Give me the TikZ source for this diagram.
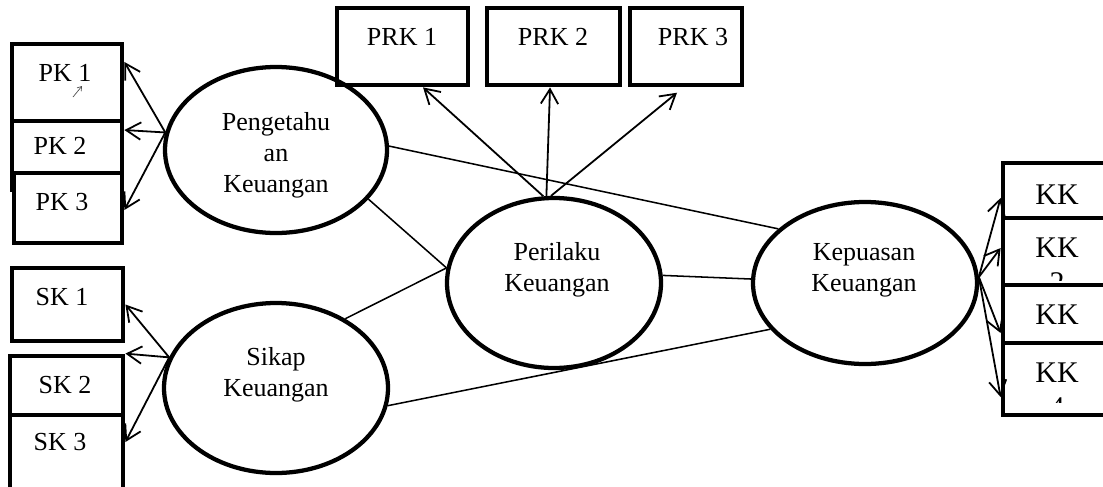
\documentclass[tikz,border=0pt]{standalone}
\usepackage{fontspec}
\setmainfont{Liberation Serif}
\usetikzlibrary{shapes.geometric,arrows.meta}
\begin{document}
\begin{tikzpicture}[x=0.75pt,y=-0.75pt,
  box/.style={draw, line width=3.6pt, fill=white, inner sep=0pt},
  lat/.style={draw, ellipse, line width=3.2pt, inner sep=0pt},
  lbl/.style={font=\fontsize{19.5}{23.25}\selectfont, align=center, inner sep=0pt},
  kklbl/.style={font=\fontsize{22.5}{26}\selectfont, align=center, inner sep=0pt},
  arr/.style={line width=1.35pt, -{Straight Barb[length=11pt,width=13pt]}},
  link/.style={line width=1.15pt},
  stray/.style={line width=0.5pt, black!70, -{Straight Barb[length=3pt,width=4pt]}}]
\useasboundingbox (0,0) rectangle (1103,486);
\clip (0,0) rectangle (1103,486);

% ---- PK boxes
\node[box, minimum width=82.5pt, minimum height=57.75pt] (pk1) at (67,82.5) {};
\node[box, minimum width=82.5pt, minimum height=51.75pt] (pk2) at (67,155.5) {};
\node[box, minimum width=81pt, minimum height=52.5pt] (pk3) at (68,208) {};
\node[lbl] (pk1t) at (65,73) {PK 1};
\node[lbl] (pk2t) at (60,146) {PK 2};
\node[lbl] (pk3t) at (62,202) {PK 3};
\coordinate (s1) at (73,97);
\coordinate (s2) at (82,86);
\draw[stray] (s1) -- (s2);

% ---- SK boxes
\node[box, minimum width=83.25pt, minimum height=54.75pt] (sk1) at (67.5,304.5) {};
\node[box, minimum width=84.75pt, minimum height=55.5pt] (sk2) at (66.5,393) {};
\node[box, minimum width=84.75pt, minimum height=57.75pt] (sk3) at (66.5,453.5) {};
\node[lbl] (sk1t) at (62,297) {SK 1};
\node[lbl] (sk2t) at (65,385) {SK 2};
\node[lbl] (sk3t) at (60,442) {SK 3};

% ---- PRK boxes
\node[box, minimum width=98.25pt, minimum height=57.75pt] (prk1) at (402.5,46.5) {};
\node[box, minimum width=99.75pt, minimum height=57.75pt] (prk2) at (553.5,46.5) {};
\node[box, minimum width=84pt, minimum height=57.75pt] (prk3) at (686,46.5) {};
\node[lbl] (prk1t) at (402,37) {PRK 1};
\node[lbl] (prk2t) at (553,37) {PRK 2};
\node[lbl] (prk3t) at (693,37) {PRK 3};

% ---- KK boxes
\node[box, minimum width=84pt, minimum height=41.25pt] (kk1) at (1059,190.5) {};
\node[kklbl] (kk1t) at (1057,195) {KK};
\node[box, minimum width=84pt, minimum height=50.25pt] (kk2) at (1059,251.5) {};
\begin{scope}
  \clip (1003,218) rectangle (1103,280);
  \node[kklbl] (kk2t) at (1057,265) {KK\\2};
\end{scope}
\node[box, minimum width=84pt, minimum height=43.5pt] (kk3) at (1059,314) {};
\node[kklbl] (kk3t) at (1057,315) {KK};
\node[box, minimum width=84pt, minimum height=54pt] (kk4) at (1059,379) {};
\begin{scope}
  \clip (1003,343) rectangle (1103,402);
  \node[kklbl] (kk4t) at (1057,390) {KK\\4};
\end{scope}

% ---- latent variables
\node[lat, minimum width=166.5pt, minimum height=124.5pt] (pk) at (276,150) {};
\node[lat, minimum width=168pt, minimum height=127.5pt] (sk) at (276,388) {};
\node[lat, minimum width=160.5pt, minimum height=127.5pt] (pr) at (554,283) {};
\node[lat, minimum width=168pt, minimum height=121.5pt] (kp) at (865,283) {};
\node[lbl] (pkt) at (276,155) {Pengetahu\\an\\Keuangan};
\node[lbl] (skt) at (276,375) {Sikap\\Keuangan};
\node[lbl] (prt) at (557,270) {Perilaku\\Keuangan};
\node[lbl] (kpt) at (864,270) {Kepuasan\\Keuangan};

% ---- arrows to indicators
\draw[arr] (pk.171) -- ([yshift=15.4pt]pk1.east);
\draw[arr] (pk.171) -- ([yshift=19.1pt]pk2.east);
\draw[arr] (pk.171) -- ([yshift=-1.5pt]pk3.east);

\draw[arr] (sk.164) -- (sk1.east);
\draw[arr] (sk.164) -- (sk2.north east);
\draw[arr] (sk.164) -- ([yshift=8.6pt]sk3.east);

\draw[arr] (pr.97) -- ([xshift=15.4pt]prk1.south);
\draw[arr] (pr.95) -- ([xshift=-2.6pt]prk2.south);
\draw[arr] (pr.92) -- ([xshift=-6.75pt,yshift=-4pt]prk3.south);

\draw[arr] (kp.3) -- ([yshift=-5.6pt]kk1.west);
\draw[arr] (kp.3) -- ([yshift=2.6pt]kk2.west);
\draw[arr] (kp.3) -- ([yshift=-14.25pt]kk3.west);
\draw[arr] (kp.3) -- ([yshift=-13.5pt]kk4.west);

% ---- structural paths
\draw[link] (pk.2) -- (kp.148);
\draw[link] (pk.-28) -- (pr.172);
\draw[link] (sk.45) -- (pr.172);
\draw[link] (sk.-9) -- (kp.206);
\draw[link] (pr.4) -- (kp.178);
\end{tikzpicture}
\end{document}
